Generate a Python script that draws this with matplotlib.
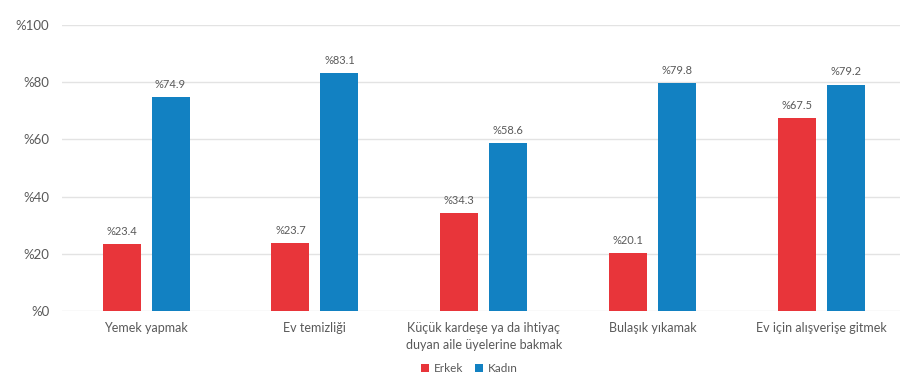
import matplotlib.pyplot as plt
import numpy as np

categories = ["Yemek yapmak", "Ev temizliği", "Küçük kardeşe ya da ihtiyaç\nduyan aile üyelerine bakmak",
              "Bulaşık yıkamak", "Ev için alışverişe gitmek"]
erkek = [23.4, 23.7, 34.3, 20.1, 67.5]
kadin = [74.9, 83.1, 58.6, 79.8, 79.2]
yticks = [0, 20, 40, 60, 80, 100]

red = "#E8353A"
blue = "#1281C2"
gray = "#595959"

plt.rcParams['font.family'] = ['Lato', 'DejaVu Sans']

fig = plt.figure(figsize=(9, 3.92), dpi=100)
ax = fig.add_axes([0.0685, 0.207, 0.938, 0.729])

x = np.arange(len(categories))
w = 0.225
off = 0.145
b1 = ax.bar(x - off, erkek, w, color=red, label="Erkek", zorder=3)
b2 = ax.bar(x + off, kadin, w, color=blue, label="Kadın", zorder=3)

for bars, vals in ((b1, erkek), (b2, kadin)):
    for b, v in zip(bars, vals):
        ax.text(b.get_x() + b.get_width() / 2, v + 2.5, "%" + f"{v:.1f}",
                ha="center", va="bottom", fontsize=8, color=gray)

ax.set_xlim(-0.5, len(categories) - 0.5)
ax.set_ylim(0, 100)
ax.set_yticks(yticks)
ax.set_yticklabels(["%" + str(t) for t in yticks], fontsize=9.5, color=gray)
ax.set_xticks(x)
ax.set_xticklabels(categories, fontsize=9, color=gray, linespacing=1.5)
ax.tick_params(length=0, pad=8)
ax.tick_params(axis="y", pad=9)
ax.grid(axis="y", color="#E3E3E3", linewidth=1, zorder=0)
for s in ax.spines.values():
    s.set_visible(False)

ax.legend(loc="upper center", bbox_to_anchor=(0.483, -0.145), ncol=2, frameon=False,
          fontsize=8.5, labelcolor=gray, handlelength=0.7, handleheight=0.7,
          handletextpad=0.4, columnspacing=1.0)

fig.savefig("out.png", dpi=100)
